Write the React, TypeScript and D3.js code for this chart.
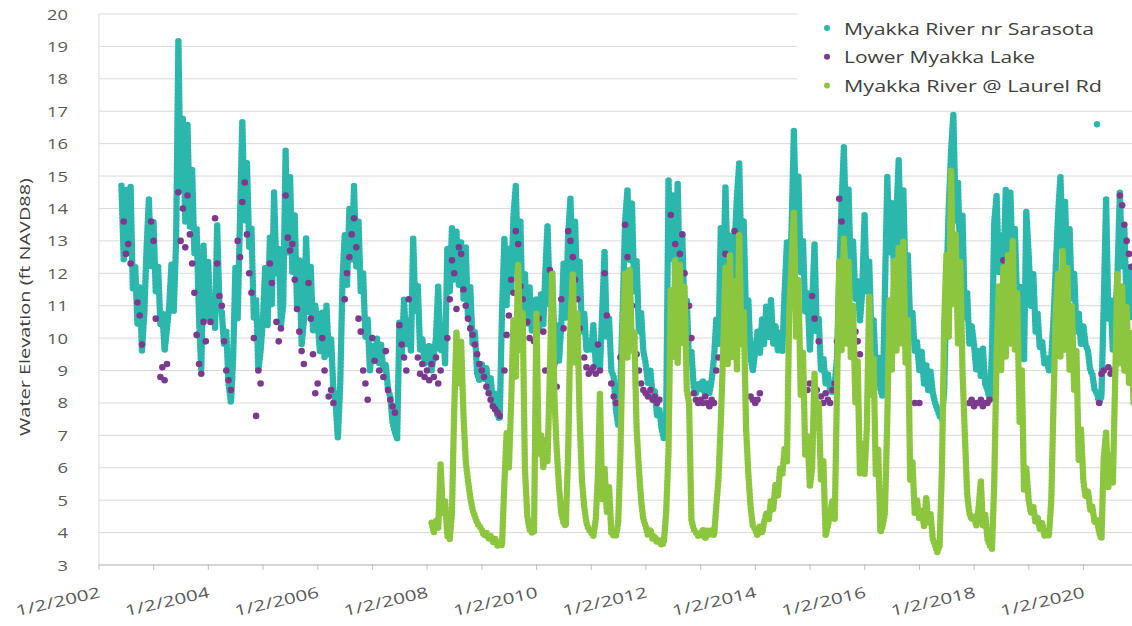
import React from "react";
import * as d3 from "d3";

const _ = null;

// half-monthly readings (1st and 16th of each month), one row per year
const sarasotaFirstYear = 2002;
const sarasotaRows: (number | null)[][] = [
  [_, _, _, _, _, _, _, _, _, _, 14.7, 12.4, 14.6, 12.6, 14.7, 11.5, 12.2, 10.4, 11.6, 9.6, 10.8, 12.8, 14.3, 12.2],
  [13.6, 11.4, 12.2, 10.4, 10.8, 9.6, 10.3, 11.0, 12.3, 10.8, 13.0, 19.2, 14.6, 16.8, 13.6, 16.6, 13.4, 15.2, 12.6, 13.4, 10.6, 9.0, 12.9, 10.6],
  [12.4, 10.6, 11.2, 10.3, 13.5, 11.0, 10.8, 9.8, 10.2, 8.6, 8.0, 9.4, 12.2, 10.6, 13.8, 16.7, 13.6, 15.4, 12.8, 13.4, 10.6, 11.2, 9.0, 9.6],
  [10.6, 12.2, 10.4, 13.1, 11.0, 14.5, 12.0, 12.8, 10.4, 11.0, 15.8, 12.6, 15.0, 12.0, 13.8, 11.0, 12.4, 9.8, 10.5, 13.1, 10.8, 12.2, 10.2, 11.0],
  [10.5, 9.6, 10.8, 9.4, 11.0, 9.5, 10.0, 8.4, 8.0, 6.9, 8.6, 11.8, 13.2, 11.6, 14.0, 12.4, 14.7, 12.2, 13.6, 11.4, 12.0, 10.0, 10.6, 9.0],
  [9.8, 9.4, 10.0, 9.2, 9.8, 9.0, 9.2, 8.4, 8.2, 7.4, 7.1, 6.9, 10.5, 9.4, 11.2, 9.8, 10.6, 9.6, 13.1, 10.8, 11.6, 9.6, 10.0, 9.2],
  [9.4, 9.8, 9.0, 9.5, 10.0, 11.6, 9.6, 10.4, 9.2, 12.8, 11.4, 13.4, 11.8, 13.3, 11.6, 13.0, 11.2, 12.8, 10.6, 11.6, 9.8, 10.2, 8.9, 8.7],
  [9.2, 8.7, 9.1, 8.4, 8.8, 8.0, 8.3, 7.6, 7.5, 10.8, 13.1, 11.0, 12.8, 11.4, 13.8, 14.7, 12.0, 13.6, 10.6, 12.0, 10.4, 11.6, 10.2, 11.0],
  [11.2, 10.2, 11.4, 10.4, 12.0, 13.5, 11.0, 12.0, 9.8, 10.4, 9.3, 10.4, 12.3, 10.6, 13.2, 14.3, 12.0, 13.6, 11.2, 12.4, 10.2, 10.8, 9.6, 9.8],
  [9.6, 10.4, 9.2, 9.8, 9.0, 10.8, 12.7, 10.0, 10.6, 9.0, 8.8, 7.8, 7.3, 8.6, 11.0, 13.6, 14.6, 12.4, 14.2, 11.4, 12.4, 10.2, 10.8, 9.6],
  [9.2, 8.6, 9.0, 8.2, 8.4, 7.6, 7.8, 7.2, 6.9, 7.4, 14.9, 12.4, 14.4, 11.6, 14.8, 11.4, 13.2, 10.6, 11.2, 9.2, 9.6, 8.5, 8.3, 8.6],
  [8.4, 8.7, 8.2, 8.6, 8.3, 8.7, 9.4, 10.6, 9.8, 13.4, 11.6, 14.7, 12.0, 13.2, 11.2, 12.8, 14.4, 15.4, 12.4, 13.6, 10.6, 11.2, 9.4, 9.0],
  [9.6, 10.2, 9.5, 10.6, 9.8, 11.0, 10.0, 11.2, 9.8, 10.4, 9.6, 10.2, 9.6, 11.4, 13.0, 11.6, 13.4, 16.4, 13.6, 15.0, 12.0, 13.0, 10.8, 11.4],
  [9.6, 11.0, 12.9, 10.2, 10.6, 9.0, 9.4, 8.6, 8.9, 8.4, 8.3, 8.6, 9.4, 12.0, 14.2, 15.9, 13.0, 14.6, 12.0, 13.0, 11.2, 11.8, 10.5, 11.4],
  [13.8, 11.4, 12.4, 10.0, 10.6, 9.0, 9.4, 8.4, 8.2, 11.4, 15.0, 12.6, 14.2, 11.8, 13.8, 15.5, 12.8, 14.6, 11.6, 12.6, 10.4, 10.8, 9.6, 9.9],
  [9.0, 9.6, 8.6, 9.2, 8.4, 9.0, 8.3, 8.0, 7.8, 7.6, 7.5, 8.4, 11.6, 14.0, 15.8, 16.9, 13.6, 14.8, 12.2, 13.8, 10.6, 11.4, 9.8, 10.4],
  [9.8, 9.0, 9.6, 8.8, 9.7, 8.6, 8.4, 8.1, 9.6, 13.6, 14.4, 12.0, 13.2, 12.0, 14.6, 12.6, 14.5, 12.2, 13.4, 11.0, 11.6, 9.8, 9.3, 13.9],
  [12.6, 11.0, 12.0, 10.2, 10.8, 9.7, 9.9, 9.2, 9.4, 9.0, 9.4, 10.6, 12.2, 13.8, 15.0, 12.8, 14.2, 12.0, 13.4, 11.2, 12.0, 10.2, 10.8, 9.8],
  [10.4, 9.8, 9.6, 9.0, 8.9, 8.4, 8.3, 8.0, 8.2, 11.0, 14.3, 10.6, 11.2, 9.6, 10.6, 12.0, 14.5, 12.2, 13.4, 11.0, 12.2, 10.6, 12.0, 10.8],
];
const sarasotaOutliers = [{ date: new Date(2020, 3, 1), value: 16.6 }];

const lakeFirstYear = 2002;
const lakeRows: (number | null)[][] = [
  [_, _, _, _, _, _, _, _, _, _, _, 13.6, 12.6, 12.9, 12.3, _, _, 11.1, 10.7, 9.8, _, _, _, 13.6],
  [13.0, 10.6, _, 8.8, 9.1, 8.7, 9.2, _, _, _, _, 14.5, 13.0, 14.0, 12.8, 14.4, 13.2, 12.3, 11.4, 10.1, 9.2, 8.9, 10.5, 9.9],
  [_, 10.5, _, 13.7, 12.3, 11.3, 11.0, 9.9, 9.0, 8.7, 8.4, _, _, 13.0, 12.5, 14.2, 14.8, 13.2, 12.0, 11.4, 10.0, 7.6, 9.0, 8.6],
  [_, _, _, 12.3, 11.7, _, 10.5, 9.9, 10.3, _, 14.4, 13.1, 12.7, 12.9, 11.8, 10.9, 10.2, 9.6, 9.2, _, 11.7, 10.6, 9.5, 8.3],
  [8.6, _, 10.0, 9.0, _, 8.2, 8.4, 8.0, _, _, _, _, 11.2, 12.0, 12.5, 13.2, 13.7, 12.8, 10.6, 10.2, 9.0, 8.6, 8.1, _],
  [10.0, 9.3, _, 9.0, _, 8.8, 9.6, 8.4, 8.1, 7.9, 7.7, _, 10.4, 9.8, 9.4, 9.0, 11.2, _, _, _, 9.4, 8.9, 9.2, 8.8],
  [9.0, 8.7, 9.2, 8.8, 9.4, 8.6, 9.0, _, _, 10.0, 11.2, 12.4, 12.0, 10.9, 12.8, 12.6, 11.5, 11.0, 10.6, 10.3, 10.1, 9.8, 9.5, 9.2],
  [9.0, 8.8, 8.5, 8.3, 8.1, 7.9, 7.8, 7.7, 7.6, _, 9.0, 10.1, 10.7, 11.8, 11.4, 13.3, 12.9, 11.6, 11.2, _, 10.5, 10.0, _, 9.9],
  [10.0, 10.6, _, 10.2, 9.0, _, 12.1, _, 9.2, 8.5, _, 11.2, 10.3, _, 13.3, 13.0, 12.5, 11.8, 11.2, 10.3, _, 9.4, 9.1, 8.9],
  [9.0, 9.1, 8.9, 9.8, 9.0, _, 12.0, 10.7, _, 8.6, 8.2, 8.0, _, 9.4, _, 13.5, 12.5, 11.5, 11.0, 10.0, 9.5, 9.0, 8.6, 8.4],
  [8.3, 8.2, 8.4, 8.1, 8.2, 8.0, 8.1, _, _, _, _, 13.8, _, 12.9, 12.1, 12.6, 13.2, 12.0, _, 11.0, 10.0, 8.3, 8.1, 8.0],
  [8.1, 8.0, 8.2, 8.0, 7.9, 8.1, 8.0, 9.0, 9.4, _, _, 12.6, _, 12.1, _, 13.3, _, 11.9, _, _, _, _, 8.2, 8.1],
  [8.0, 8.1, 8.3, _, _, _, _, _, _, _, _, _, _, _, _, _, _, _, _, _, _, _, _, 8.4],
  [8.6, 11.3, 10.6, 8.4, 9.9, 8.2, 8.0, 8.3, 8.1, 8.0, 8.4, 8.6, 9.9, 14.3, 13.6, 12.9, _, _, _, _, 10.2, 9.9, 9.5, _],
  [_, _, _, _, _, _, _, _, _, _, _, _, _, _, _, _, _, _, _, _, _, _, 8.0, _],
  [8.0, _, _, _, _, _, _, _, _, _, _, _, _, _, _, _, _, _, _, _, _, _, 8.0, 8.1],
  [7.9, 8.0, 8.0, 8.1, 7.9, 8.0, 8.0, 8.1, _, _, _, _, _, 12.4, _, _, _, _, _, _, _, 8.2, _, _],
  [_, _, _, _, _, _, _, _, _, _, _, _, _, _, _, _, _, _, _, _, _, _, _, _],
  [_, _, _, _, _, _, _, 8.0, 8.9, 9.0, _, 9.1, 8.9, 9.0, _, _, 14.4, 14.1, 13.5, 13.0, 12.6, 12.2, _, _],
];

const laurelFirstYear = 2008;
const laurelRows: (number | null)[][] = [
  [_, _, 4.3, 4.0, 4.4, 4.1, 6.1, 4.6, 5.0, 3.9, 3.8, 4.6, 7.8, 10.2, 8.6, 9.9, 7.6, 6.2, 5.6, 5.1, 4.7, 4.5, 4.3, 4.2],
  [4.1, 3.9, 4.0, 3.8, 3.9, 3.7, 3.8, 3.6, 3.7, 3.6, 5.5, 7.1, 6.0, 8.0, 10.6, 8.8, 12.3, 9.6, 10.8, 6.0, 4.5, 4.1, 4.0, 4.0],
  [10.8, 6.4, 7.0, 6.0, 6.9, 6.2, 9.0, 12.0, 8.2, 6.6, 5.4, 4.6, 4.3, 4.2, 6.5, 10.4, 12.0, 9.2, 10.8, 7.6, 5.6, 4.8, 4.3, 4.1],
  [4.0, 3.9, 4.4, 5.8, 8.3, 5.0, 6.0, 4.6, 5.4, 4.0, 3.9, 3.9, 4.3, 6.4, 10.2, 12.0, 9.4, 12.1, 9.6, 10.2, 7.2, 6.0, 5.0, 4.4],
  [4.2, 3.9, 4.1, 3.8, 3.9, 3.7, 3.8, 3.6, 3.7, 4.6, 6.5, 11.5, 9.4, 12.4, 9.2, 12.3, 9.8, 11.6, 8.4, 8.0, 4.4, 4.1, 4.0, 3.9],
  [3.9, 4.1, 3.8, 4.1, 3.9, 4.1, 3.9, 4.8, 5.7, 7.4, 9.6, 12.2, 9.2, 12.6, 9.4, 11.8, 9.0, 13.2, 9.8, 10.8, 7.2, 5.8, 4.8, 4.2],
  [4.1, 3.9, 4.2, 4.0, 4.3, 4.6, 4.4, 5.0, 4.7, 5.5, 5.1, 6.0, 5.8, 6.6, 6.2, 10.8, 12.4, 13.9, 10.0, 11.8, 8.2, 9.6, 6.4, 7.0],
  [5.4, 6.0, 8.9, 7.2, 8.0, 5.6, 6.2, 3.9, 4.2, 4.6, 5.0, 4.4, 8.4, 12.4, 9.6, 13.1, 9.8, 12.4, 9.4, 11.0, 8.0, 9.3, 5.8, 6.8],
  [5.8, 7.2, 11.3, 8.2, 9.4, 5.8, 6.6, 4.0, 4.2, 4.6, 7.5, 11.2, 9.0, 12.4, 9.6, 12.8, 9.8, 13.0, 9.2, 10.6, 5.6, 6.2, 4.6, 5.0],
  [4.4, 4.7, 4.2, 5.1, 4.3, 4.6, 3.8, 3.6, 3.4, 3.6, 6.0, 10.5, 12.6, 10.0, 15.2, 11.0, 13.2, 9.8, 12.4, 9.0, 7.0, 5.2, 4.6, 4.4],
  [4.5, 4.2, 4.8, 5.6, 4.2, 4.6, 3.8, 3.6, 3.5, 5.5, 9.5, 11.6, 9.0, 12.2, 9.4, 12.6, 9.8, 13.0, 9.6, 11.4, 7.4, 9.0, 5.3, 6.0],
  [5.0, 4.6, 4.8, 4.3, 4.5, 4.1, 4.3, 3.9, 4.0, 3.9, 5.0, 8.0, 10.8, 12.0, 9.4, 12.7, 9.6, 12.2, 9.0, 11.0, 8.4, 9.6, 6.2, 7.2],
  [5.6, 5.1, 5.3, 4.7, 4.8, 4.3, 4.4, 4.0, 3.8, 6.3, 7.1, 5.4, 6.4, 5.5, 8.8, 12.0, 9.2, 11.6, 9.0, 11.0, 8.6, 10.2, 8.0, 9.4],
];

const yTicks = [3, 4, 5, 6, 7, 8, 9, 10, 11, 12, 13, 14, 15, 16, 17, 18, 19, 20];
const tickYears = [2002, 2003, 2004, 2005, 2006, 2007, 2008, 2009, 2010, 2011, 2012, 2013, 2014, 2015, 2016, 2017, 2018, 2019, 2020];
const labelYears = [2002, 2004, 2006, 2008, 2010, 2012, 2014, 2016, 2018, 2020];

const seriesNames = ["Myakka River nr Sarasota", "Lower Myakka Lake", "Myakka River @ Laurel Rd"];
const seriesColors = ["#2bb7ac", "#7c3a8f", "#8cc63f"];
const legendWidths = [250, 191, 258];

type Pt = { date: Date; value: number | null };

const toPoints = (rows: (number | null)[][], firstYear: number): Pt[] =>
  rows.flatMap((row, i) =>
    row.map((value, s) => ({ date: new Date(firstYear + i, Math.floor(s / 2), s % 2 ? 16 : 1), value }))
  );

const sarasota = toPoints(sarasotaRows, sarasotaFirstYear);
const lake = toPoints(lakeRows, lakeFirstYear).filter((d) => d.value != null);
const laurel = toPoints(laurelRows, laurelFirstYear);

const FONT = "'Open Sans', 'Liberation Sans', sans-serif";
const TXT = "#595959";

export default function App() {
  const x = d3.scaleTime().domain([new Date(2002, 0, 2), new Date(2021, 0, 2)]).range([99, 1138.3]);
  const y = d3.scaleLinear().domain([3, 20]).range([565, 14]);

  const line = d3
    .line<Pt>()
    .defined((d) => d.value != null)
    .x((d) => x(d.date))
    .y((d) => y(d.value as number));

  // daily readings drawn as a chain of dots along each record
  const dotted = {
    fill: "none",
    strokeWidth: 6.5,
    strokeDasharray: "0 3.5",
    strokeLinecap: "round" as const,
    strokeLinejoin: "round" as const,
  };

  return (
    <svg width={1132} height={626} style={{ position: "absolute", left: 0, top: 0, background: "#fff" }} fontFamily={FONT}>
      <defs>
        <clipPath id="plotArea">
          <rect x={99} y={0} width={1040} height={572} />
        </clipPath>
      </defs>

      {yTicks.map((t) => (
        <line key={t} x1={99} x2={1132} y1={y(t)} y2={y(t)} stroke="#d9d9d9" strokeWidth={1} />
      ))}
      <line x1={99} x2={99} y1={y(20)} y2={y(3)} stroke="#d9d9d9" />

      <rect x={797} y={0} width={340} height={102} fill="#fff" />

      <g clipPath="url(#plotArea)">
        <path d={line(sarasota) ?? ""} stroke={seriesColors[0]} {...dotted} />
        {sarasotaOutliers.map((d, i) => (
          <circle key={i} cx={x(d.date)} cy={y(d.value)} r={3.2} fill={seriesColors[0]} />
        ))}
        {lake.map((d, i) => (
          <circle key={i} cx={x(d.date)} cy={y(d.value as number)} r={3.3} fill={seriesColors[1]} />
        ))}
        <path d={line(laurel) ?? ""} stroke={seriesColors[2]} {...dotted} />
      </g>

      <line x1={99} x2={1132} y1={y(3)} y2={y(3)} stroke="#bfbfbf" />
      {tickYears.map((yr) => {
        const px = x(new Date(yr, 0, 2));
        return <line key={yr} x1={px} x2={px} y1={y(3) - 1} y2={y(3) + 5} stroke="#bfbfbf" />;
      })}

      {yTicks.map((t) => (
        <text
          key={t}
          x={68}
          y={y(t) + 5.5}
          textAnchor="end"
          fontSize={15}
          fill={TXT}
          textLength={String(t).length * 10.5}
          lengthAdjust="spacingAndGlyphs"
        >
          {t}
        </text>
      ))}

      {labelYears.map((yr) => {
        const px = x(new Date(yr, 0, 2));
        return (
          <text
            key={yr}
            transform={`translate(${px + 2},597) rotate(-13)`}
            textAnchor="end"
            fontSize={15}
            fill={TXT}
            textLength={86}
            lengthAdjust="spacingAndGlyphs"
          >
            {`1/2/${yr}`}
          </text>
        );
      })}

      <text
        transform="translate(30,307) rotate(-90)"
        textAnchor="middle"
        fontSize={15}
        fill="#404040"
        textLength={258}
        lengthAdjust="spacingAndGlyphs"
      >
        Water Elevation (ft NAVD88)
      </text>

      {seriesNames.map((name, i) => (
        <g key={name}>
          <circle cx={827} cy={28 + i * 28.7} r={3} fill={seriesColors[i]} />
          <text
            x={844}
            y={34.5 + i * 28.7}
            fontSize={17}
            fill="#404040"
            textLength={legendWidths[i]}
            lengthAdjust="spacingAndGlyphs"
          >
            {name}
          </text>
        </g>
      ))}
    </svg>
  );
}
